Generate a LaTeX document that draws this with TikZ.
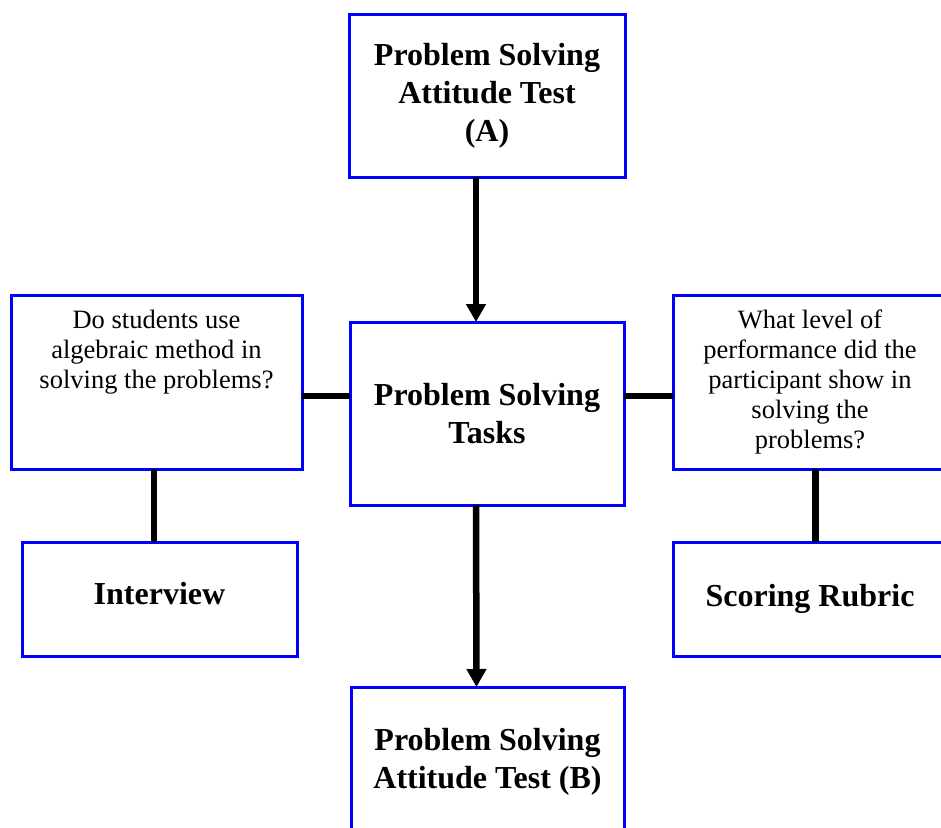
\documentclass[tikz,border=0pt]{standalone}
\usepackage{fontspec}
\setmainfont{Liberation Serif}
\usetikzlibrary{arrows.meta}
\begin{document}
\begin{tikzpicture}[x=1pt,y=-1pt,
  box/.style={draw=blue,line width=3pt,rectangle,inner sep=0pt,outer sep=0pt},
  big/.style={font=\fontsize{32}{38}\selectfont\bfseries,align=center},
  small/.style={font=\fontsize{26.5}{30}\selectfont,align=center},
  conn/.style={line width=6.5pt},
  arr/.style={conn,-{Triangle[length=18pt,width=19pt]}}]
\useasboundingbox (0,0) rectangle (941,827);
\clip (0,0) rectangle (941,827);
\node[box,minimum width=276pt,minimum height=163pt,big] (A) at (487,95.5) {Problem Solving\\Attitude Test\\(A)};
\node[box,minimum width=274pt,minimum height=183pt,big] (T) at (487,413.5) {Problem Solving\\Tasks};
\node[box,minimum width=291pt,minimum height=174pt] (Q1) at (156.5,382) {};
\node[small] (Q1t) at (156.5,352) {Do students use\\algebraic method in\\solving the problems?};
\node[box,minimum width=275pt,minimum height=114pt,big] (I) at (159.5,599) {\raisebox{-5pt}[0pt][0pt]{Interview}};
\node[box,minimum width=274pt,minimum height=174pt,small] (Q2) at (810,382) {What level of\\performance did the\\participant show in\\solving the\\problems?};
\node[box,minimum width=274pt,minimum height=114pt,big] (R) at (810,599) {Scoring Rubric};
\node[box,minimum width=273pt,minimum height=150pt,big] (B) at (487.5,762) {Problem Solving\\Attitude Test (B)};
\coordinate (mid) at (0,396);
\draw[arr] ([xshift=-11pt]A.south) -- ([xshift=-11pt]T.north);
\draw[arr] ([xshift=-11pt]T.south) -- ([xshift=-11pt]B.north);
\draw[conn] (Q1.east |- mid) -- (T.west |- mid);
\draw[conn] (T.east |- mid) -- (Q2.west |- mid);
\draw[conn] ([xshift=-2.5pt]Q1.south) -- ([xshift=-5.5pt]I.north);
\draw[conn] ([xshift=5.5pt]Q2.south) -- ([xshift=5.5pt]R.north);
\end{tikzpicture}
\end{document}
